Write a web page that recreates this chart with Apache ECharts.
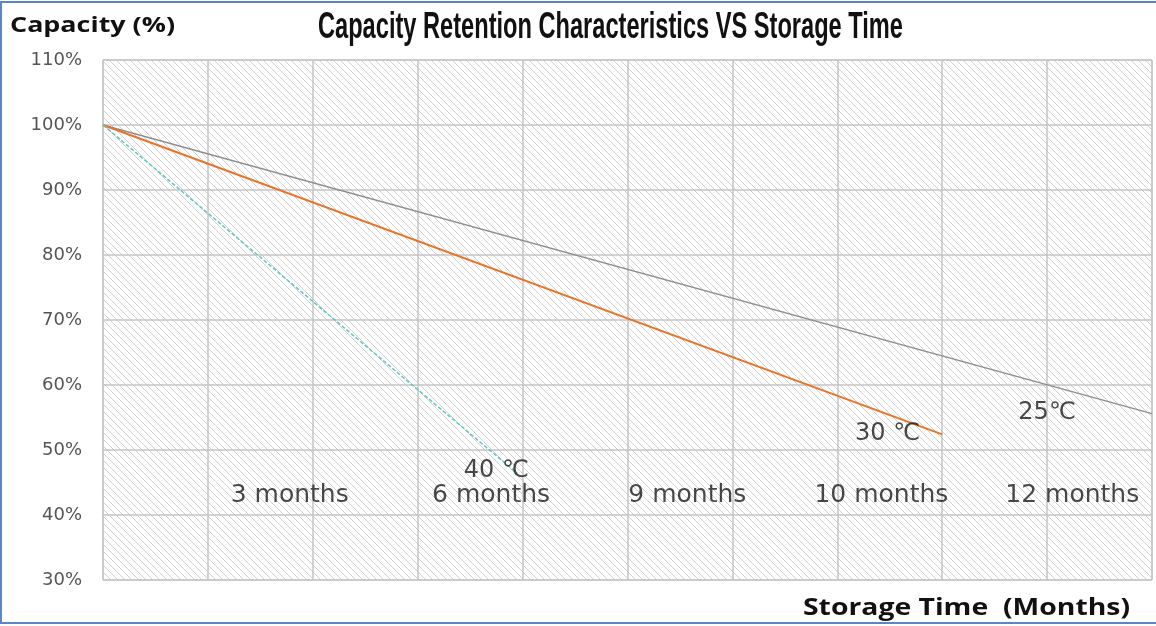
<!DOCTYPE html>
<html>
<head>
<meta charset="utf-8">
<script src="https://cdn.jsdelivr.net/npm/echarts@6/dist/echarts.min.js"></script>
<style>
  html, body { margin: 0; padding: 0; background: #fff; }
  #main { width: 1156px; height: 626px; }
</style>
</head>
<body>
<div id="main"></div>
<script>
// x is measured in grid columns (10 columns across the plot)
var yTicks = [30, 40, 50, 60, 70, 80, 90, 100, 110];
var line25 = [[0, 100], [10, 55.6]];
var line30 = [[0, 100], [8, 52.4]];
var line40 = [[0, 100], [3.95, 46.4]];

var monthNames = ['3 months', '6 months', '9 months', '10 months', '12 months'];
var monthPosX = [1.78, 3.7, 5.57, 7.42, 9.24];
var monthPosY = 43.0;

var tempNames = ['40 \u2103', '30 \u2103', '25\u2103'];
var tempPos = [[3.75, 46.8], [7.48, 52.5], [9.0, 55.8]];

var titleText = 'Capacity Retention Characteristics VS Storage Time';
var yName = 'Capacity (%)';
var xName = 'Storage Time  (Months)';

function hatch() { // diagonal hatching like the original plot area
    var s = 7;
    var c = document.createElement('canvas');
    c.width = c.height = s;
    var ctx = c.getContext('2d');
    ctx.fillStyle = '#ffffff';
    ctx.fillRect(0, 0, s, s);
    ctx.strokeStyle = '#d0d0d0';
    ctx.lineWidth = 1;
    ctx.beginPath();
    ctx.moveTo(-s, -s); ctx.lineTo(2 * s, 2 * s);
    ctx.moveTo(-s, 0); ctx.lineTo(s, 2 * s);
    ctx.moveTo(0, -s); ctx.lineTo(2 * s, s);
    ctx.stroke();
    return c;
}

// the source picture is stretched sideways, so squeeze/stretch text to its width
function fitScale(text, font, width) {
    var ctx = document.createElement('canvas').getContext('2d');
    ctx.font = font;
    return width / ctx.measureText(text).width;
}

var titleFont = 'bold 37px "Liberation Sans"';
var yNameFont = 'bold 21px "Open Sans"';
var xNameFont = 'bold 24px "Open Sans"';

var chart = echarts.init(document.getElementById('main'));

var monthData = monthNames.map(function (n, i) {
    return { name: n, value: [monthPosX[i], monthPosY] };
});
var tempData = tempNames.map(function (n, i) {
    return { name: n, value: tempPos[i] };
});

var option = {
    backgroundColor: '#ffffff',
    animation: false,
    graphic: [
        {
            type: 'rect',
            shape: { x: 1, y: 2, width: 1160, height: 621 },
            style: { fill: 'none', stroke: '#5b86c5', lineWidth: 2 },
            silent: true, z: 10
        },
        {
            type: 'text',
            x: 318, y: 28, scaleX: fitScale(titleText, titleFont, 585),
            style: { text: titleText, font: titleFont, fill: '#111', verticalAlign: 'middle' }
        },
        {
            type: 'text',
            x: 10, y: 26, scaleX: fitScale(yName, yNameFont, 165),
            style: { text: yName, font: yNameFont, fill: '#111', verticalAlign: 'middle' }
        },
        {
            type: 'text',
            x: 803, y: 608, scaleX: fitScale(xName, xNameFont, 327),
            style: { text: xName, font: xNameFont, fill: '#111', verticalAlign: 'middle' }
        }
    ],
    grid: {
        left: 103, right: 4, top: 60, bottom: 46,
        show: true,
        backgroundColor: { image: hatch(), repeat: 'repeat' },
        borderColor: '#bdbdbd',
        borderWidth: 1
    },
    xAxis: {
        type: 'value',
        min: 0, max: 10, interval: 1,
        axisLine: { show: false },
        axisTick: { show: false },
        axisLabel: { show: false },
        splitLine: { show: true, lineStyle: { color: '#c4c4c4', width: 1.5 } }
    },
    yAxis: {
        type: 'value',
        min: yTicks[0], max: yTicks[yTicks.length - 1], interval: 10,
        axisLine: { show: false },
        axisTick: { show: false },
        axisLabel: {
            formatter: '{value}%',
            margin: 21,
            fontFamily: 'DejaVu Sans',
            fontSize: 18,
            color: '#555'
        },
        splitLine: { show: true, lineStyle: { color: '#c4c4c4', width: 1.5 } }
    },
    series: [
        {
            name: '25', type: 'line', data: line25, symbol: 'none',
            lineStyle: { color: '#8e8e8e', width: 1.5 }
        },
        {
            name: '30', type: 'line', data: line30, symbol: 'none',
            lineStyle: { color: '#e8732a', width: 2 }
        },
        {
            name: '40', type: 'line', data: line40, symbol: 'none',
            lineStyle: { color: '#64c4c6', width: 1.5, type: [4, 2] }
        },
        {
            type: 'scatter', data: monthData, symbolSize: 0, silent: true, z: 5,
            label: {
                show: true, position: 'inside', formatter: '{b}',
                fontFamily: 'DejaVu Sans', fontSize: 25, color: '#1a1a1a'
            }
        },
        {
            type: 'scatter', data: tempData, symbolSize: 0, silent: true, z: 5,
            label: {
                show: true, position: 'inside', formatter: '{b}',
                fontFamily: 'DejaVu Sans', fontSize: 24, color: '#1a1a1a'
            }
        }
    ]
};

chart.setOption(option);
</script>
</body>
</html>
